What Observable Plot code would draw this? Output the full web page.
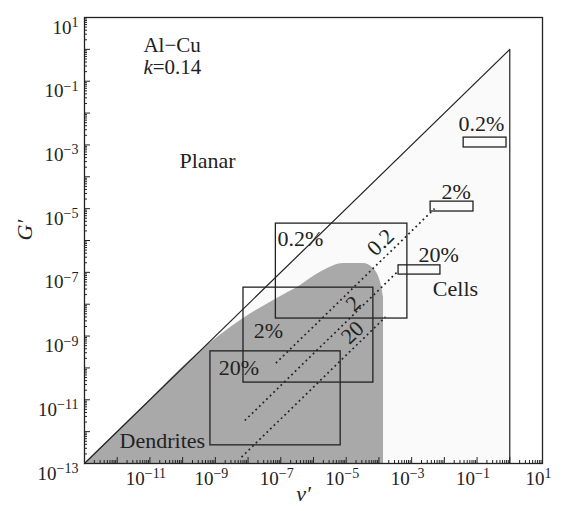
<!DOCTYPE html>
<html><head><meta charset="utf-8">
<script src="https://cdn.jsdelivr.net/npm/d3@7"></script>
<script src="https://cdn.jsdelivr.net/npm/@observablehq/plot@0.6"></script>
<style>body{margin:0;background:#fff;font-family:"Liberation Serif","DejaVu Serif",serif}
#chart svg, #chart svg text{font-family:"Liberation Serif","DejaVu Serif",serif !important}</style>
</head><body><div id="chart"></div>
<script>
// All positions are log10 exponents of v' (x) and G' (y)
const cellBoundaryX = [-13, 0, 0];
const cellBoundaryY = [-13, 0, -13];
const dendriteX = [-13, -11.3, -9.6, -8.14, -7.22, -6.4, -5.79, -5.08, -4.47, -4.17, -3.95, -3.86];
const dendriteY = [-13, -11.3, -9.6, -8.45, -7.88, -7.41, -7.0, -6.72, -6.72, -6.88, -7.32, -7.79];
const boxLabels = ["0.2%", "2%", "20%", "0.2%", "2%", "20%"];
const boxX1 = [-7.15, -8.14, -9.15, -1.41, -2.42, -3.40];
const boxX2 = [-3.13, -4.17, -5.17, -0.10, -1.11, -2.12];
const boxY1 = [-8.45, -10.46, -12.43, -3.08, -5.09, -7.07];
const boxY2 = [-5.47, -7.48, -9.48, -2.77, -4.78, -6.78];
const boxLabelX = [-7.10, -7.83, -8.90, -1.57, -2.09, -2.79];
const boxLabelY = [-5.94, -8.83, -9.99, -2.33, -4.49, -6.44];
const ratioLabels = ["0.2", "2", "20"];
const ratioX1 = [-7.15, -8.1, -8.2];
const ratioY1 = [-9.85, -11.65, -12.8];
const ratioX2 = [-2.3, -3.4, -3.8];
const ratioY2 = [-5.0, -6.95, -8.4];
const ratioLabelX = [-3.95, -4.78, -4.81];
const ratioLabelY = [-6.06, -7.98, -8.89];
const regionNames = ["Planar", "Cells", "Dendrites"];
const regionX = [-9.24, -1.66, -10.62];
const regionY = [-3.49, -7.51, -12.28];
const titleLines = ["Al−Cu", "k=0.14"];
const titleX = -11.2;
const titleY = [0.14, -0.57];
const majorExp = d3.range(-13, 2);
const labelExpX = [-11, -9, -7, -5, -3, -1, 1];
const labelExpY = [1, -1, -3, -5, -7, -9, -11, -13];

const p = e => Math.pow(10, e);
const cellPoly = cellBoundaryX.map((x, i) => ({x: p(x), y: p(cellBoundaryY[i])}));
const dend = dendriteX.map((x, i) => ({x: p(x), y: p(dendriteY[i])}));
const boxes = boxLabels.map((l, i) => ({l, x1: p(boxX1[i]), x2: p(boxX2[i]), y1: p(boxY1[i]), y2: p(boxY2[i]), lx: p(boxLabelX[i]), ly: p(boxLabelY[i])}));
const ratios = ratioLabels.map((l, i) => ({l, x1: p(ratioX1[i]), y1: p(ratioY1[i]), x2: p(ratioX2[i]), y2: p(ratioY2[i]), lx: p(ratioLabelX[i]), ly: p(ratioLabelY[i])}));
const regions = regionNames.map((n, i) => ({n, x: p(regionX[i]), y: p(regionY[i])}));
const titles = titleLines.map((t, i) => ({t, x: p(titleX), y: p(titleY[i])}));
const majors = majorExp.map(p);
const minors = [];
for (let e = -13; e <= 0; e++) for (let k = 2; k <= 9; k++) minors.push(k * p(e));

const W = 564, H = 511, mL = 84, mR = 22, mT = 17, mB = 48;
const fw = W - mL - mR, fh = H - mT - mB;
const ink = "#222";
const serif = "Liberation Serif, DejaVu Serif, serif";
const fmt = d => "10^" + Math.round(Math.log10(d));

const chart = Plot.plot({
  width: W, height: H,
  marginLeft: mL, marginRight: mR, marginTop: mT, marginBottom: mB,
  x: {type: "log", domain: [1e-13, 10], label: null},
  y: {type: "log", domain: [1e-13, 10], label: null},
  style: {fontFamily: serif, background: "#fff", color: ink},
  marks: [
    Plot.line(cellPoly, {x: "x", y: "y", fill: "#fafafa", stroke: "none"}),
    Plot.areaY(dend, {x: "x", y1: 1e-13, y2: "y", fill: "#a9a9a9", curve: "monotone-x"}),
    Plot.line(cellPoly, {x: "x", y: "y", stroke: ink, strokeWidth: 1.2}),
    Plot.rect(boxes, {x1: "x1", x2: "x2", y1: "y1", y2: "y2", fill: "none", stroke: ink, strokeWidth: 1.3}),
    Plot.link(ratios, {x1: "x1", y1: "y1", x2: "x2", y2: "y2", stroke: ink, strokeWidth: 1.7, strokeDasharray: "1.8,3.2"}),
    Plot.text(boxes, {x: "lx", y: "ly", text: "l", textAnchor: "start", fontSize: 22, fontFamily: serif, fill: ink}),
    Plot.text(ratios, {x: "lx", y: "ly", text: "l", rotate: -44, fontSize: 22, fontFamily: serif, fill: ink}),
    Plot.text(regions, {x: "x", y: "y", text: "n", fontSize: 22, fontFamily: serif, fill: ink}),
    Plot.text(titles, {x: "x", y: "y", text: "t", textAnchor: "start", fontSize: 21, fontFamily: serif, fill: ink}),
    Plot.ruleX(majors, {insetTop: fh - 6, stroke: ink}),
    Plot.ruleX(minors, {insetTop: fh - 3, stroke: ink}),
    Plot.ruleY(majors, {insetRight: fw - 6, stroke: ink}),
    Plot.ruleY(minors, {insetRight: fw - 3, stroke: ink}),
    Plot.axisX(labelExpX.map(p), {tickSize: 0, tickPadding: 8, tickFormat: fmt, fontSize: 19, fontFamily: serif, dx: -4, label: null}),
    Plot.axisY(labelExpY.map(p), {tickSize: 0, tickPadding: 6, tickFormat: fmt, fontSize: 19, fontFamily: serif, dy: 10, label: null}),
    Plot.text(["v′"], {frameAnchor: "bottom", text: d => d, dx: -10, dy: 37, fontStyle: "italic", fontSize: 22, fontFamily: serif, fill: ink}),
    Plot.text(["G′"], {frameAnchor: "left", text: d => d, dx: -60, rotate: -90, fontStyle: "italic", fontSize: 22, fontFamily: serif, fill: ink}),
    Plot.frame({stroke: ink, strokeWidth: 1.3})
  ]
});

const ns = "http://www.w3.org/2000/svg";
// turn "10^e" tick labels into base + superscript
chart.querySelectorAll('[aria-label="x-axis tick label"] text, [aria-label="y-axis tick label"] text').forEach(t => {
  const s = t.textContent;
  if (!s.includes("^")) return;
  const [b, e] = s.split("^");
  t.textContent = "";
  const t1 = document.createElementNS(ns, "tspan");
  t1.textContent = b;
  const t2 = document.createElementNS(ns, "tspan");
  t2.setAttribute("dy", "-0.47em");
  t2.setAttribute("font-size", "14");
  t2.textContent = e.replace("-", "−");
  t.appendChild(t1);
  t.appendChild(t2);
});
// italic k in "k=0.14"
chart.querySelectorAll("text").forEach(t => {
  if (t.textContent === "k=0.14") {
    t.textContent = "";
    const a = document.createElementNS(ns, "tspan");
    a.setAttribute("font-style", "italic");
    a.textContent = "k";
    const b = document.createElementNS(ns, "tspan");
    b.textContent = "=0.14";
    t.appendChild(a);
    t.appendChild(b);
  }
});
document.getElementById("chart").appendChild(chart);
</script>
</body></html>
